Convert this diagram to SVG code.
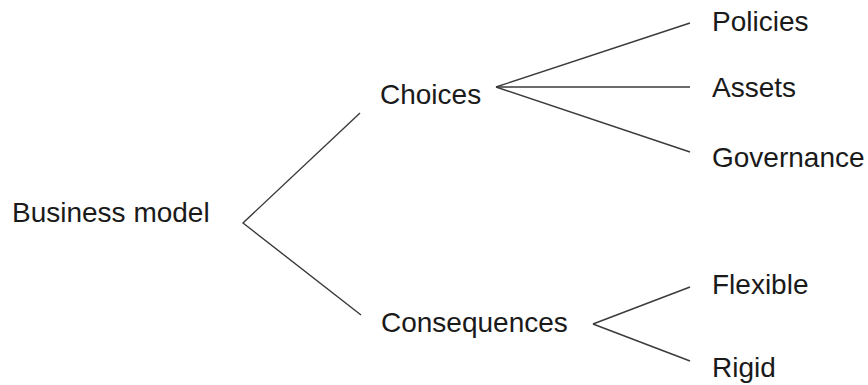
<svg xmlns="http://www.w3.org/2000/svg" width="868" height="385" viewBox="0 0 868 385">
  <style>
    text { font-family: "Liberation Sans", Arial, sans-serif; font-size: 28px; fill: #1a1a1a; }
    .link { stroke: #3a3a3a; stroke-width: 1.4; fill: none; }
  </style>
  <rect width="868" height="385" fill="#ffffff"/>
  <g id="connectors">
    <polyline class="link" points="360,113 243,223 361,315"/>
    <line class="link" x1="496" y1="87" x2="690" y2="23"/>
    <line class="link" x1="496" y1="87" x2="690" y2="87"/>
    <line class="link" x1="496" y1="87" x2="690" y2="152"/>
    <line class="link" x1="593" y1="324" x2="690" y2="287"/>
    <line class="link" x1="593" y1="324" x2="690" y2="361"/>
  </g>
  <g id="business-model"><text x="12" y="222">Business model</text></g>
  <g id="choices"><text x="380" y="104">Choices</text></g>
  <g id="consequences"><text x="381" y="332">Consequences</text></g>
  <g id="policies"><text x="712" y="31">Policies</text></g>
  <g id="assets"><text x="712" y="97">Assets</text></g>
  <g id="governance"><text x="712" y="167">Governance</text></g>
  <g id="flexible"><text x="712" y="294">Flexible</text></g>
  <g id="rigid"><text x="712" y="377">Rigid</text></g>
</svg>
